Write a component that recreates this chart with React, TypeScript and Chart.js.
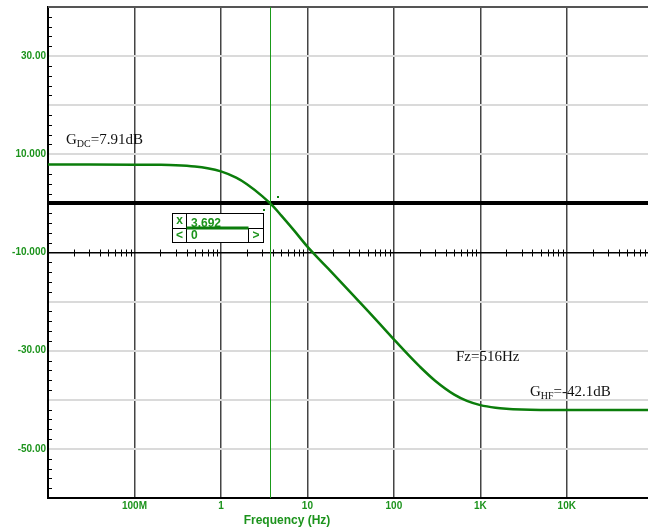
import React, { useEffect, useRef } from "react";
import { Chart, registerables } from "chart.js";

Chart.register(...registerables);

// ---- data ----
const freqHz = [
  0.01, 0.03, 0.1, 0.2, 0.3, 0.5, 0.7, 1, 1.5, 2, 3, 4, 5, 7, 10, 15, 20, 30, 50, 70,
  100, 150, 200, 300, 500, 700, 1000, 1500, 2000, 3000, 5000, 10000, 20000, 87000,
];
const gainDb = [
  7.91, 7.91, 7.89, 7.85, 7.77, 7.52, 7.17, 6.52, 5.25, 3.92, 1.49, -0.55, -2.5, -5.5,
  -8.8, -12.1, -14.4, -17.7, -21.9, -24.7, -27.69, -31.02, -33.26, -36.12, -38.95,
  -40.22, -41.08, -41.62, -41.82, -41.97, -42.06, -42.09, -42.1, -42.1,
];

const xMin = 0.01;
const xMax = 87000;
const yMin = -60;
const yMax = 40;

const xTickValues = [0.1, 1, 10, 100, 1000, 10000];
const xTickLabels = ["100M", "1", "10", "100", "1K", "10K"];
const yTickValues = [30, 10, -10, -30, -50];
const yTickLabels = ["30.00", "10.000", "-10.000", "-30.00", "-50.00"];
const yGridValues = [40, 30, 20, 10, 0, -10, -20, -30, -40, -50, -60];

const xTitle = "Frequency (Hz)";
const cursorFreq = 3.692;
const cursorValueLabel = "3.692";
const cursorIndexLabel = "0";

const GREEN_TEXT = "#1c931c";
const GREEN_CURVE = "#0b7d0b";
const SANS = '"Liberation Sans", Arial, sans-serif';
const SERIF = '"Liberation Serif", "Times New Roman", serif';

function drawSubText(
  ctx: CanvasRenderingContext2D,
  x: number,
  y: number,
  a: string,
  sub: string,
  b: string
) {
  ctx.font = `15px ${SERIF}`;
  ctx.fillText(a, x, y);
  x += ctx.measureText(a).width;
  ctx.font = `10px ${SERIF}`;
  ctx.fillText(sub, x, y + 3);
  x += ctx.measureText(sub).width;
  ctx.font = `15px ${SERIF}`;
  ctx.fillText(b, x, y);
}

const overlayPlugin = {
  id: "overlay",
  beforeDatasetsDraw(chart: any) {
    const { ctx, chartArea, scales } = chart;
    const xs = scales.x;
    const ys = scales.y;
    ctx.save();
    // top border
    ctx.strokeStyle = "#555";
    ctx.lineWidth = 2;
    ctx.beginPath();
    ctx.moveTo(chartArea.left, chartArea.top);
    ctx.lineTo(chartArea.right, chartArea.top);
    ctx.stroke();

    // minor ticks on the left border (every 2 dB)
    ctx.strokeStyle = "#000";
    ctx.lineWidth = 1;
    for (let v = yMin + 2; v < yMax; v += 2) {
      if (v % 10 === 0) continue;
      const py = Math.round(ys.getPixelForValue(v)) + 0.5;
      ctx.beginPath();
      ctx.moveTo(chartArea.left, py);
      ctx.lineTo(chartArea.left + 4, py);
      ctx.stroke();
    }

    // minor log ticks along the -10 dB line
    const py10 = ys.getPixelForValue(-10);
    for (let k = -2; k <= 4; k++) {
      for (let m = 2; m <= 9; m++) {
        const f = m * Math.pow(10, k);
        if (f <= xMin || f >= xMax) continue;
        const px = Math.round(xs.getPixelForValue(f)) + 0.5;
        ctx.beginPath();
        ctx.moveTo(px, py10 - 3);
        ctx.lineTo(px, py10 + 4);
        ctx.stroke();
      }
    }
    ctx.restore();
  },
  afterDraw(chart: any) {
    const { ctx, chartArea, scales } = chart;
    const xs = scales.x;
    const ys = scales.y;
    ctx.save();

    // cursor line
    const cx = Math.round(xs.getPixelForValue(cursorFreq)) + 0.5;
    ctx.strokeStyle = "#1a9a1a";
    ctx.lineWidth = 1;
    ctx.beginPath();
    ctx.moveTo(cx, chartArea.top);
    ctx.lineTo(cx, chartArea.bottom);
    ctx.stroke();

    // small marker dots
    ctx.fillStyle = GREEN_CURVE;
    ctx.fillRect(cx - 7.5, 209, 2, 2);
    ctx.fillRect(cx + 6.5, 196, 2, 2);

    // cursor readout box
    const bl = 172.5, br = 263.5, bt = 213.5, bb = 242.5, bd = 186.5, bm = 228, bg = 248.5;
    ctx.fillStyle = "#fff";
    ctx.fillRect(bl, bt, br - bl, bb - bt);
    ctx.strokeStyle = "#000";
    ctx.lineWidth = 1;
    ctx.strokeRect(bl, bt, br - bl, bb - bt);
    ctx.beginPath();
    ctx.moveTo(bd, bt);
    ctx.lineTo(bd, bb);
    ctx.moveTo(bg, bm);
    ctx.lineTo(bg, bb);
    ctx.moveTo(bl, bm + 0.5);
    ctx.lineTo(br, bm + 0.5);
    ctx.stroke();

    ctx.fillStyle = GREEN_TEXT;
    ctx.font = `bold 12px ${SANS}`;
    ctx.textBaseline = "alphabetic";
    ctx.textAlign = "left";
    ctx.fillText(cursorValueLabel, 191, 227);
    ctx.strokeStyle = GREEN_CURVE;
    ctx.lineWidth = 3;
    ctx.beginPath();
    ctx.moveTo(bd, bm);
    ctx.lineTo(bg, bm);
    ctx.stroke();
    ctx.fillStyle = GREEN_TEXT;
    ctx.textBaseline = "middle";
    ctx.textAlign = "center";
    ctx.fillText("x", 179.5, 220.5);
    ctx.fillText("<", 179.5, 236);
    ctx.fillText(">", 256, 236);
    ctx.textAlign = "left";
    ctx.fillText(cursorIndexLabel, 191, 236);

    // tick labels
    ctx.fillStyle = GREEN_TEXT;
    ctx.font = `bold 10px ${SANS}`;
    ctx.textAlign = "right";
    ctx.textBaseline = "middle";
    yTickValues.forEach((v, i) => {
      ctx.fillText(yTickLabels[i], chartArea.left - 2, ys.getPixelForValue(v));
    });
    ctx.textAlign = "center";
    xTickValues.forEach((v, i) => {
      ctx.fillText(xTickLabels[i], xs.getPixelForValue(v), chartArea.bottom + 8.5);
    });
    ctx.font = `bold 12px ${SANS}`;
    ctx.fillText(xTitle, 287, chartArea.bottom + 23);

    // annotations
    ctx.fillStyle = "#111";
    ctx.textAlign = "left";
    ctx.textBaseline = "alphabetic";
    drawSubText(ctx, 66, 143.5, "G", "DC", "=7.91dB");
    ctx.font = `15px ${SERIF}`;
    ctx.fillText("Fz=516Hz", 456, 361);
    drawSubText(ctx, 530, 395.5, "G", "HF", "=-42.1dB");

    ctx.restore();
  },
};

export default function App() {
  const ref = useRef<HTMLCanvasElement | null>(null);
  useEffect(() => {
    document.body.style.margin = "0";
    const canvas = ref.current;
    if (!canvas) return;
    const points = freqHz.map((f, i) => ({ x: f, y: gainDb[i] }));
    const chart = new Chart(canvas, {
      type: "scatter",
      data: {
        datasets: [
          {
            data: points,
            showLine: true,
            borderColor: GREEN_CURVE,
            borderWidth: 2.5,
            pointRadius: 0,
            cubicInterpolationMode: "monotone",
            fill: false,
          },
        ],
      },
      options: {
        animation: false,
        responsive: false,
        events: [],
        layout: { padding: { left: 48, top: 7, right: 0, bottom: 31 } },
        plugins: { legend: { display: false }, tooltip: { enabled: false } },
        scales: {
          x: {
            type: "logarithmic",
            min: xMin,
            max: xMax,
            afterBuildTicks: (s: any) => {
              s.ticks = xTickValues.map((v) => ({ value: v }));
            },
            ticks: { display: false },
            grid: { drawTicks: false, color: "#444", lineWidth: 1.5 },
            border: { display: true, color: "#000", width: 2 },
          },
          y: {
            type: "linear",
            min: yMin,
            max: yMax,
            afterBuildTicks: (s: any) => {
              s.ticks = yGridValues.map((v) => ({ value: v }));
            },
            ticks: { display: false },
            grid: {
              drawTicks: false,
              color: (c: any) => {
                const v = c.tick ? c.tick.value : 0;
                if (v === 0 || v === -10) return "#000";
                if (v === yMax) return "#555";
                return "#dadada";
              },
              lineWidth: (c: any) => {
                const v = c.tick ? c.tick.value : 0;
                if (v === 0) return 4;
                if (v === -10) return 1.5;
                return 2;
              },
            },
            border: { display: true, color: "#000", width: 2 },
          },
        },
      },
      plugins: [overlayPlugin],
    } as any);
    return () => chart.destroy();
  }, []);
  return (
    <canvas
      ref={ref}
      width={648}
      height={529}
      style={{ display: "block", width: 648, height: 529 }}
    />
  );
}
